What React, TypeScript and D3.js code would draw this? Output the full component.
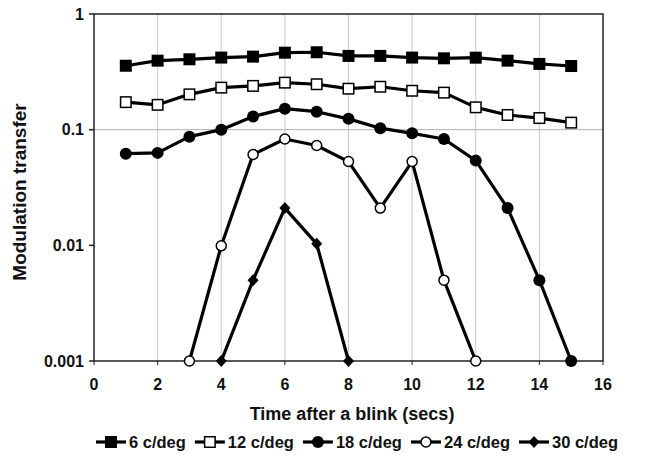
import React, { useRef, useEffect } from 'react';
import * as d3 from 'd3';

const times = [1, 2, 3, 4, 5, 6, 7, 8, 9, 10, 11, 12, 13, 14, 15];
const cd6 = [0.357, 0.395, 0.406, 0.42, 0.428, 0.463, 0.467, 0.434, 0.434, 0.42, 0.414, 0.419, 0.395, 0.37, 0.355];
const cd12 = [0.173, 0.164, 0.202, 0.231, 0.239, 0.255, 0.247, 0.226, 0.235, 0.217, 0.209, 0.156, 0.134, 0.126, 0.115];
const cd18 = [0.062, 0.063, 0.087, 0.1, 0.13, 0.152, 0.143, 0.124, 0.103, 0.093, 0.083, 0.054, 0.021, 0.005, 0.001];
const cd24Times = [3, 4, 5, 6, 7, 8, 9, 10, 11, 12];
const cd24 = [0.001, 0.0099, 0.061, 0.083, 0.073, 0.053, 0.021, 0.053, 0.005, 0.001];
const cd30Times = [4, 5, 6, 7, 8];
const cd30 = [0.001, 0.005, 0.021, 0.0103, 0.001];

const seriesNames = ['6 c/deg', '12 c/deg', '18 c/deg', '24 c/deg', '30 c/deg'];
const markerKinds = ['square', 'squareOpen', 'circle', 'circleOpen', 'diamond'];
const xTicks = [0, 2, 4, 6, 8, 10, 12, 14, 16];
const yTicks = [0.001, 0.01, 0.1, 1];
const yTickLabels = ['0.001', '0.01', '0.1', '1'];

const FONT = "'Liberation Sans', Arial, sans-serif";

function drawMarker(g: any, kind: string, x: number, y: number) {
  if (kind === 'square' || kind === 'squareOpen') {
    const s = kind === 'square' ? 12 : 10.5;
    g.append('rect')
      .attr('x', x - s / 2).attr('y', y - s / 2).attr('width', s).attr('height', s)
      .attr('fill', kind === 'square' ? '#000' : '#fff')
      .attr('stroke', '#000').attr('stroke-width', kind === 'square' ? 0 : 1.5);
  } else if (kind === 'circle' || kind === 'circleOpen') {
    g.append('circle')
      .attr('cx', x).attr('cy', y).attr('r', kind === 'circle' ? 6 : 5)
      .attr('fill', kind === 'circle' ? '#000' : '#fff')
      .attr('stroke', '#000').attr('stroke-width', kind === 'circle' ? 0 : 1.5);
  } else {
    g.append('path')
      .attr('d', `M${x},${y - 6}L${x + 5.5},${y}L${x},${y + 6}L${x - 5.5},${y}Z`)
      .attr('fill', '#000');
  }
}

const App: React.FC = () => {
  const ref = useRef<SVGSVGElement | null>(null);

  useEffect(() => {
    if (!ref.current) return;
    const svg = d3.select(ref.current);
    svg.selectAll('*').remove();

    const left = 94, right = 603, top = 14, bottom = 361;
    const x = d3.scaleLinear().domain([0, 16]).range([left, right]);
    const y = d3.scaleLog().domain([0.001, 1]).range([bottom, top]);

    svg.append('rect').attr('width', 645).attr('height', 468).attr('fill', '#fff');

    // grid
    const grid = svg.append('g');
    grid.selectAll('line.v')
      .data(xTicks.filter((t) => t > 0 && t < 16))
      .enter().append('line')
      .attr('x1', (d) => x(d)).attr('x2', (d) => x(d))
      .attr('y1', top).attr('y2', bottom)
      .attr('stroke', '#c8c8c8').attr('stroke-width', 1);
    grid.append('line')
      .attr('x1', left).attr('x2', right)
      .attr('y1', y(0.1)).attr('y2', y(0.1))
      .attr('stroke', '#b0b0b0').attr('stroke-width', 1);

    // frame
    svg.append('rect')
      .attr('x', left).attr('y', top).attr('width', right - left).attr('height', bottom - top)
      .attr('fill', 'none').attr('stroke', '#222').attr('stroke-width', 1.5);

    // y ticks
    const yAxis = svg.append('g');
    yTicks.forEach((t, i) => {
      yAxis.append('line')
        .attr('x1', left - 5).attr('x2', left).attr('y1', y(t)).attr('y2', y(t))
        .attr('stroke', '#222').attr('stroke-width', 1.5);
      yAxis.append('text')
        .attr('x', left - 10).attr('y', y(t)).attr('dy', '0.36em')
        .attr('text-anchor', 'end')
        .style('font', `bold 16px ${FONT}`).attr('fill', '#111')
        .text(yTickLabels[i]);
    });

    // x ticks
    const xAxis = svg.append('g');
    xTicks.forEach((t) => {
      xAxis.append('line')
        .attr('x1', x(t)).attr('x2', x(t)).attr('y1', bottom).attr('y2', bottom + 4)
        .attr('stroke', '#222').attr('stroke-width', 1);
      xAxis.append('text')
        .attr('x', x(t)).attr('y', bottom + 29)
        .attr('text-anchor', 'middle')
        .style('font', `bold 16px ${FONT}`).attr('fill', '#111')
        .text(String(t));
    });

    svg.append('text')
      .attr('x', 352).attr('y', 420)
      .attr('text-anchor', 'middle')
      .style('font', `bold 18px ${FONT}`).attr('fill', '#111')
      .text('Time after a blink (secs)');

    svg.append('text')
      .attr('transform', `translate(26, 192) rotate(-90)`)
      .attr('text-anchor', 'middle')
      .style('font', `bold 19px ${FONT}`).attr('fill', '#111')
      .text('Modulation transfer');

    const series = [
      { xs: times, ys: cd6 },
      { xs: times, ys: cd12 },
      { xs: times, ys: cd18 },
      { xs: cd24Times, ys: cd24 },
      { xs: cd30Times, ys: cd30 },
    ];

    const line = d3.line<[number, number]>().x((d) => x(d[0])).y((d) => y(d[1]));
    const plot = svg.append('g');
    // draw in reverse so the top series sit above
    series.slice().reverse().forEach((s, ri) => {
      const idx = series.length - 1 - ri;
      const pts: [number, number][] = s.xs.map((t, i) => [t, s.ys[i]]);
      plot.append('path')
        .attr('d', line(pts))
        .attr('fill', 'none').attr('stroke', '#000').attr('stroke-width', 3.2)
        .attr('stroke-linejoin', 'round');
      pts.forEach((p) => drawMarker(plot, markerKinds[idx], x(p[0]), y(p[1])));
    });

    // legend
    const legend = svg.append('g');
    let lx = 96;
    const ly = 442;
    seriesNames.forEach((name, i) => {
      legend.append('line')
        .attr('x1', lx).attr('x2', lx + 30).attr('y1', ly).attr('y2', ly)
        .attr('stroke', '#000').attr('stroke-width', 3.2);
      drawMarker(legend, markerKinds[i], lx + 15, ly);
      const txt = legend.append('text')
        .attr('x', lx + 33).attr('y', ly).attr('dy', '0.36em')
        .style('font', `bold 16.5px ${FONT}`).attr('fill', '#111')
        .text(name);
      const w = (txt.node() as SVGTextElement).getComputedTextLength();
      lx += 33 + w + 9;
    });
  }, []);

  return <svg ref={ref} width={645} height={468} style={{ position: 'absolute', left: 0, top: 0 }} />;
};

export default App;
